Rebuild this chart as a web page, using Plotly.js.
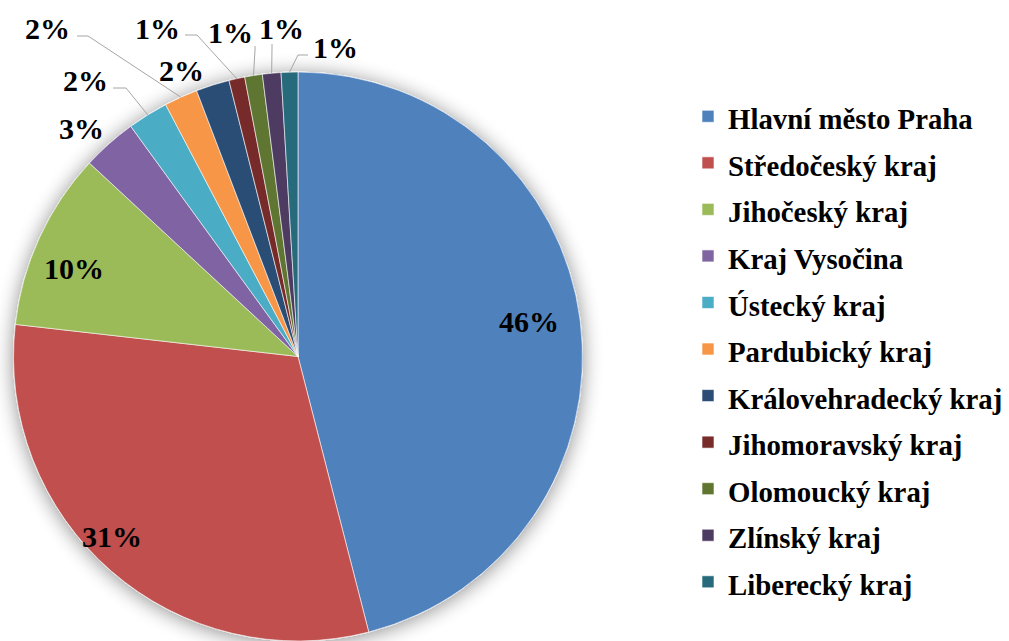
<!DOCTYPE html>
<html>
<head>
<meta charset="utf-8">
<script src="https://cdn.plot.ly/plotly-3.0.1.min.js"></script>
<style>
html,body{margin:0;padding:0;background:#fff;}
#chart{width:1009px;height:641px;}
</style>
</head>
<body>
<div id="chart"></div>
<script>
// ---- data ----
const regions = ["Hlavní město Praha","Středočeský kraj","Jihočeský kraj","Kraj Vysočina","Ústecký kraj","Pardubický kraj","Královehradecký kraj","Jihomoravský kraj","Olomoucký kraj","Zlínský kraj","Liberecký kraj"];
const shares = [46.0, 30.8, 10.1, 3.1, 2.3, 1.9, 1.9, 0.9, 1.0, 1.05, 0.95];
const colors = ["#4F81BD","#C0504D","#9BBB59","#8064A2","#4BACC6","#F79646","#2C4D75","#772C2A","#5F7530","#4D3B62","#276A7C"];

// ---- layout (pixels) ----
const W = 1009, H = 641;
const pieTop = 72, pieWidth = 596;
const FONT = 'Liberation Serif, Times New Roman, serif';
const labelPos = [[529,322],[112,536],[74,268],[81,128],[85,80],[47,28],[181,70],[157,28],[230,32],[281,28],[335,47]];
// leader lines: [start, elbow] in pixels, end point computed from slice angle; null = none
const leaders = [null,null,null,null,[[113,88],[126,88]],[[77,36],[88,36]],null,[[185,35],[197,35]],[[255,46],[255,50]],[[272,44],[272,48]],[[308,55],[298,55]]];

const pieH = H - pieTop;
const R = Math.min(pieWidth, pieH)/2;
const cx = pieWidth/2, cy = pieTop + pieH/2;
const px = x => x / W, py = y => 1 - y / H;
const total = shares.reduce((a,b)=>a+b,0);

const annotations = [], shapes = [];
let cum = 0;
shares.forEach((v,i)=>{
  const mid = (cum + v/2)/total * 2*Math.PI;
  cum += v;
  annotations.push({
    x: px(labelPos[i][0]), y: py(labelPos[i][1]), xref:'paper', yref:'paper',
    xanchor:'center', yanchor:'middle',
    text: Math.round(v/total*100) + '%', showarrow:false,
    font:{family:FONT, size:30, color:'#000', weight:'bold'}
  });
  if (leaders[i]) {
    const ex = cx + R*Math.sin(mid), ey = cy - R*Math.cos(mid);
    const [s,e] = leaders[i];
    shapes.push({type:'path', xref:'paper', yref:'paper',
      path:`M${px(s[0])},${py(s[1])} L${px(e[0])},${py(e[1])} L${px(ex)},${py(ey)}`,
      line:{color:'#A6A6A6', width:1}});
  }
});

const trace = {
  type:'pie', labels: regions.map(r=>'<span style="font-size:28.8px">'+r+'</span>'), values: shares,
  sort:false, direction:'clockwise', rotation:0,
  marker:{colors: colors, line:{color:'#ffffff', width:0.6}},
  textinfo:'none', hoverinfo:'label+percent',
  domain:{x:[0, pieWidth/W], y:[0, pieH/H]}
};

const layout = {
  width:W, height:H, margin:{l:0,r:0,t:0,b:0,autoexpand:false},
  paper_bgcolor:'#fff', showlegend:true,
  legend:{x:688/W, y:py(88), xanchor:'left', yanchor:'top',
    font:{family:FONT, size:33.5, color:'#000', weight:'bold'}},
  annotations: annotations, shapes: shapes
};

Plotly.newPlot('chart',[trace],layout,{displayModeBar:false}).then(gd=>{
  const svg = gd.querySelector('svg.main-svg');
  const ns = 'http://www.w3.org/2000/svg';
  let defs = svg.querySelector('defs');
  const f = document.createElementNS(ns,'filter');
  f.setAttribute('id','pieShadow');
  f.setAttribute('x','-20%'); f.setAttribute('y','-20%'); f.setAttribute('width','140%'); f.setAttribute('height','140%');
  f.innerHTML = '<feGaussianBlur in="SourceAlpha" stdDeviation="10"/><feOffset dx="0" dy="2" result="ob"/><feComponentTransfer><feFuncA type="linear" slope="0.45"/></feComponentTransfer><feMerge><feMergeNode/><feMergeNode in="SourceGraphic"/></feMerge>';
  defs.appendChild(f);
  const pl = svg.querySelector('.pielayer');
  if (pl) pl.setAttribute('filter','url(#pieShadow)');
});
</script>
</body>
</html>
